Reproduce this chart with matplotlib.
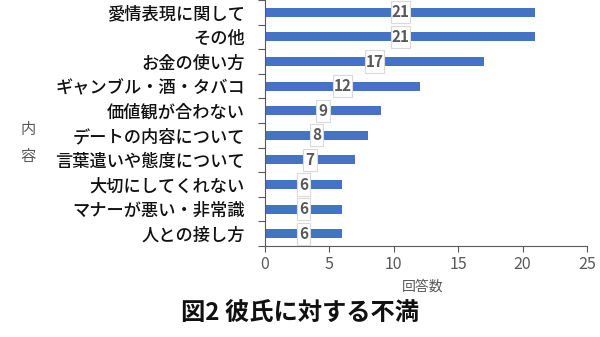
import matplotlib.pyplot as plt
from matplotlib.patches import Rectangle
from matplotlib.ticker import FixedLocator, NullFormatter
from matplotlib.transforms import Affine2D, ScaledTranslation

plt.rcParams['font.family'] = ['Noto Sans CJK JP', 'DejaVu Sans']

categories = [
    "愛情表現に関して",
    "その他",
    "お金の使い方",
    "ギャンブル・酒・タバコ",
    "価値観が合わない",
    "デートの内容について",
    "言葉遣いや態度について",
    "大切にしてくれない",
    "マナーが悪い・非常識",
    "人との接し方",
]
counts = [21, 21, 17, 12, 9, 8, 7, 6, 6, 6]
x_ticks = [0, 5, 10, 15, 20, 25]

fig = plt.figure(figsize=(6.0, 3.37), dpi=100)
ax = fig.add_axes([0.4417, 0.27, 0.5366, 0.73])

ypos = list(range(len(categories)))
ax.barh(ypos, counts, height=0.37, color="#4472C4", zorder=2)
ax.set_ylim(len(categories) - 0.5, -0.5)
ax.set_xlim(0, 25)

# category labels without tick marks at their centres
ax.set_yticks(ypos)
ax.set_yticklabels(categories, fontsize=12.4, fontweight='medium', color='#111111')
ax.tick_params(axis='y', length=0, pad=14.5)
# boundary tick marks between categories
ax.yaxis.set_minor_locator(FixedLocator([i - 0.5 for i in range(len(categories) + 1)]))
ax.yaxis.set_minor_formatter(NullFormatter())
ax.tick_params(axis='y', which='minor', length=5, color='#595959', width=0.8)

ax.set_xticks(x_ticks)
ax.tick_params(axis='x', length=4, color='#595959', width=0.8, labelsize=11.5,
               labelcolor='#595959', pad=3)

for side in ['top', 'right']:
    ax.spines[side].set_visible(False)
for side in ['left', 'bottom']:
    ax.spines[side].set_color('#595959')
    ax.spines[side].set_linewidth(0.8)

# value labels in tall boxes centred on each bar (box size in points)
for y, v in zip(ypos, counts):
    w = 14 if v >= 10 else 9.5
    h = 16
    trans = (Affine2D().scale(1 / 72) + fig.dpi_scale_trans
             + ScaledTranslation(v / 2, y, ax.transData))
    ax.add_patch(Rectangle((-w / 2, -h / 2), w, h, transform=trans,
                           facecolor='white', edgecolor='#D9D9D9',
                           linewidth=0.8, zorder=3, clip_on=False))
    ax.text(v / 2, y, str(v), ha='center', va='center', fontsize=11,
            fontweight='bold', color='#595959', zorder=4)

fig.text(423 / 600, 1 - 287 / 337, "回答数", ha='center', va='center',
         fontsize=10, color='#595959')
fig.text(28 / 600, 1 - 143 / 337, "内\n容", ha='center', va='center',
         fontsize=11, color='#595959', linespacing=1.7)
fig.text(300 / 600, 1 - 313 / 337, "図2 彼氏に対する不満", ha='center', va='center',
         fontsize=17.5, fontweight='bold', color='#111111')

fig.savefig("out.png", dpi=100)
